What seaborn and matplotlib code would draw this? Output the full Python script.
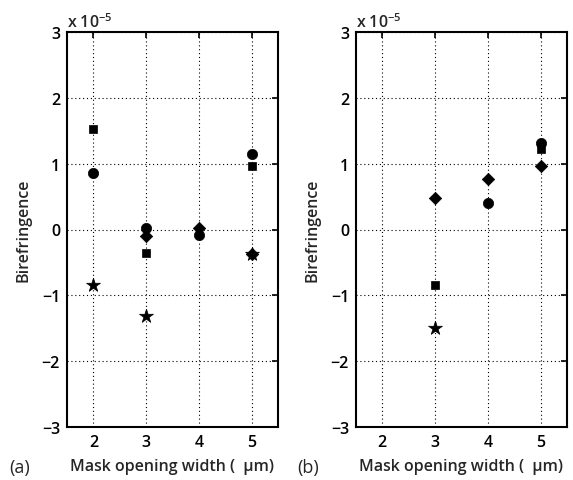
import numpy as np
import pandas as pd
import matplotlib
matplotlib.use("Agg")
import matplotlib.pyplot as plt
import seaborn as sns

# valores (unidades de 1e-5)
larguras = [2, 3, 4, 5]

a_quadrado = [1.52, -0.36, np.nan, 0.96]
a_circulo = [0.86, 0.02, -0.08, 1.15]
a_losango = [np.nan, -0.10, 0.02, -0.37]
a_estrela = [-0.84, -1.31, np.nan, -0.37]

b_quadrado = [np.nan, -0.84, np.nan, 1.22]
b_circulo = [np.nan, np.nan, 0.40, 1.32]
b_losango = [np.nan, 0.48, 0.77, 0.97]
b_estrela = [np.nan, -1.49, np.nan, np.nan]

yticks = [-3, -2, -1, 0, 1, 2, 3]
ytick_labels = ["\u22123", "\u22122", "\u22121", "0", "1", "2", "3"]

sns.set_theme(style="white")
plt.rcParams["font.family"] = ["Open Sans", "DejaVu Sans"]
plt.rcParams["mathtext.fontset"] = "custom"
plt.rcParams["mathtext.rm"] = "Open Sans:semibold"
plt.rcParams["mathtext.default"] = "rm"

marcadores = {"quadrado": "s", "circulo": "o", "losango": "D", "estrela": "*"}
tamanhos = {"quadrado": 38, "circulo": 55, "losango": 40, "estrela": 110}


def monta_df(q, c, l, e):
    partes = []
    for nome, vals in [("quadrado", q), ("circulo", c), ("losango", l), ("estrela", e)]:
        partes.append(pd.DataFrame({"x": larguras, "y": vals, "serie": nome}))
    return pd.concat(partes).dropna()


df_a = monta_df(a_quadrado, a_circulo, a_losango, a_estrela)
df_b = monta_df(b_quadrado, b_circulo, b_losango, b_estrela)

fig = plt.figure(figsize=(5.73, 4.81), dpi=100)
ax1 = fig.add_axes([67 / 573, 53 / 481, 211 / 573, 395 / 481])
ax2 = fig.add_axes([356 / 573, 53 / 481, 211 / 573, 395 / 481])

for ax, df, letra in [(ax1, df_a, "(a)"), (ax2, df_b, "(b)")]:
    for nome, grupo in df.groupby("serie"):
        sns.scatterplot(data=grupo, x="x", y="y", ax=ax, marker=marcadores[nome],
                        s=tamanhos[nome], color="black", edgecolor="black",
                        linewidth=0.5, legend=False, zorder=3)
    ax.set_xlim(1.5, 5.5)
    ax.set_ylim(-3, 3)
    ax.set_xticks(larguras)
    ax.set_yticks(yticks)
    ax.set_yticklabels(ytick_labels)
    ax.grid(True, color="black", linestyle=(0, (1, 2.5)), linewidth=0.8)
    ax.tick_params(direction="in", length=4, width=1.2, top=True, right=True,
                   labelsize=11.5, pad=5, colors="black")
    for lbl in ax.get_xticklabels() + ax.get_yticklabels():
        lbl.set_fontweight("semibold")
    for sp in ax.spines.values():
        sp.set_visible(True)
        sp.set_color("black")
        sp.set_linewidth(1.5)
    ax.set_xlabel("Mask opening width (  \u00b5m)", fontsize=11.5,
                  fontweight="semibold", labelpad=6)
    ax.set_ylabel("Birefringence", fontsize=11.5, fontweight="semibold",
                  labelpad=7)
    ax.text(0.0, 1.003, r"x 10$^{-5}$", transform=ax.transAxes, fontsize=11.5,
            fontweight="semibold", ha="left", va="bottom")
    ax.text(-0.225, -0.101, letra, transform=ax.transAxes, fontsize=13,
            ha="center", va="center")

fig.savefig("out.png", dpi=100)
